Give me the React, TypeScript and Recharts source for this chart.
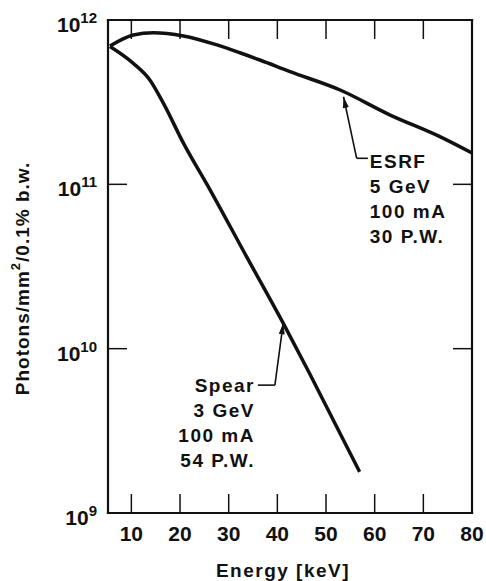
import { LineChart, Line, XAxis, YAxis, ReferenceLine, ReferenceDot } from 'recharts'

const FONT = '"Liberation Sans", Arial, sans-serif'
const INK = '#111'

// values (keV, photons/mm2/0.1% b.w.)
const energyEsrf = [5.6, 10.4, 14.5, 20.7, 27.6, 32.3, 36.4, 42.6, 52.9, 63.2, 73.4, 80]
const fluxEsrf = [6.95e11, 8.11e11, 8.37e11, 8.0e11, 7.05e11, 6.32e11, 5.71e11, 4.85e11, 3.75e11, 2.64e11, 1.95e11, 1.55e11]
const energySpear = [5.6, 10.4, 13.8, 16.6, 20.7, 26.2, 33.7, 41.2, 46.6, 56.9]
const fluxSpear = [6.9e11, 5.45e11, 4.32e11, 3.11e11, 1.78e11, 9.23e10, 3.62e10, 1.43e10, 7.08e9, 1.78e9]

const energyDomain = [5.2, 80]
const fluxDomain = [1e9, 1e12]
const energyTicks = [10, 20, 30, 40, 50, 60, 70, 80]
const fluxTicks = [1e9, 1e10, 1e11, 1e12]
const innerEnergyTicks = [10, 20, 30, 40, 50, 60, 70]
const innerFluxTicks = [1e10, 1e11]

const esrfNote = ['ESRF', '5 GeV', '100 mA', '30 P.W.']
const spearNote = ['Spear', '3 GeV', '100 mA', '54 P.W.']

// one table over all energies, each series filled where it was read
const allEnergies = Array.from(new Set([...energyEsrf, ...energySpear])).sort((a, b) => a - b)
const table = allEnergies.map((energy) => {
  const i = energyEsrf.indexOf(energy)
  const j = energySpear.indexOf(energy)
  return {
    energy,
    esrf: i >= 0 ? fluxEsrf[i] : null,
    spear: j >= 0 ? fluxSpear[j] : null,
  }
})

const [e0, e1] = energyDomain
const [f0, f1] = fluxDomain
const frameSides = [
  [{ x: e0, y: f0 }, { x: e0, y: f1 }],
  [{ x: e1, y: f0 }, { x: e1, y: f1 }],
  [{ x: e0, y: f0 }, { x: e1, y: f0 }],
  [{ x: e0, y: f1 }, { x: e1, y: f1 }],
]

const TICK_LEN = 19

function BottomTick({ x, y, payload }: any) {
  return (
    <text x={x} y={y + 28} textAnchor="middle" fontSize={21} fontWeight="bold" fontFamily={FONT} fill={INK}>
      {payload.value}
    </text>
  )
}

function LeftTick({ x, y, payload }: any) {
  const exp = Math.round(Math.log10(payload.value))
  return (
    <text x={x - 11} y={y + 12} textAnchor="end" fontSize={21} fontWeight="bold" fontFamily={FONT} fill={INK}>
      10
      <tspan dy={-9} fontSize={15}>{exp}</tspan>
    </text>
  )
}

// inward tick marks at both ends of a full-height / full-width segment
function VTicks({ x1, y1, x2, y2 }: any) {
  const top = Math.min(y1, y2)
  const bottom = Math.max(y1, y2)
  return (
    <g>
      <line x1={x1} y1={bottom} x2={x2} y2={bottom - TICK_LEN} stroke={INK} strokeWidth={1.5} />
      <line x1={x1} y1={top} x2={x2} y2={top + TICK_LEN} stroke={INK} strokeWidth={1.5} />
    </g>
  )
}

function HTicks({ x1, y1, x2, y2 }: any) {
  const left = Math.min(x1, x2)
  const right = Math.max(x1, x2)
  return (
    <g>
      <line x1={left} y1={y1} x2={left + TICK_LEN} y2={y2} stroke={INK} strokeWidth={1.5} />
      <line x1={right} y1={y1} x2={right - TICK_LEN} y2={y2} stroke={INK} strokeWidth={1.5} />
    </g>
  )
}

function Frame({ x1, y1, x2, y2 }: any) {
  return <line x1={x1} y1={y1} x2={x2} y2={y2} stroke={INK} strokeWidth={2.2} strokeLinecap="square" />
}

function YTitle({ viewBox }: any) {
  const cx = viewBox.x + 14
  const cy = viewBox.y + viewBox.height / 2 + 12
  return (
    <text
      x={cx}
      y={cy}
      transform={`rotate(-90 ${cx} ${cy})`}
      textAnchor="middle"
      dominantBaseline="central"
      fontSize={19}
      fontWeight="bold"
      letterSpacing={1}
      fontFamily={FONT}
      fill={INK}
    >
      Photons/mm
      <tspan dy={-7} fontSize={13}>2</tspan>
      <tspan dy={7}>/0.1% b.w.</tspan>
    </text>
  )
}

function XTitle({ viewBox }: any) {
  return (
    <text
      x={viewBox.x + viewBox.width / 2 - 7}
      y={viewBox.y + 64}
      textAnchor="middle"
      fontSize={19}
      fontWeight="bold"
      letterSpacing={1.5}
      fontFamily={FONT}
      fill={INK}
    >
      Energy [keV]
    </text>
  )
}

function Arrow({ x1, y1, x2, y2 }: any) {
  const dx = x2 - x1
  const dy = y2 - y1
  const len = Math.hypot(dx, dy) || 1
  const ux = dx / len
  const uy = dy / len
  const bx = x1 + ux * 11
  const by = y1 + uy * 11
  const px = -uy * 3
  const py = ux * 3
  return (
    <g>
      <line x1={x1} y1={y1} x2={x2} y2={y2} stroke={INK} strokeWidth={1.6} />
      <polygon points={`${x1},${y1} ${bx + px},${by + py} ${bx - px},${by - py}`} fill={INK} />
    </g>
  )
}

function Plain({ x1, y1, x2, y2 }: any) {
  return <line x1={x1} y1={y1} x2={x2} y2={y2} stroke={INK} strokeWidth={1.6} />
}

function noteShape(lines: string[], anchor: 'start' | 'end') {
  return ({ cx, cy }: any) => (
    <text
      x={cx}
      y={cy}
      textAnchor={anchor}
      fontSize={19}
      fontWeight="bold"
      letterSpacing={1.5}
      fontFamily={FONT}
      fill={INK}
    >
      {lines.map((t, i) => (
        <tspan key={t} x={cx} dy={i === 0 ? 7 : 25}>
          {t}
        </tspan>
      ))}
    </text>
  )
}

export default function App() {
  return (
    <div style={{ position: 'absolute', left: 0, top: 0, background: '#fff' }}>
      <LineChart width={486} height={581} data={table} margin={{ top: 20, right: 14, bottom: 8, left: 8 }}>
        <XAxis
          type="number"
          dataKey="energy"
          domain={energyDomain}
          ticks={energyTicks}
          interval={0}
          height={60}
          tickSize={0}
          tickMargin={0}
          tickLine={false}
          tick={<BottomTick />}
          axisLine={false}
          label={<XTitle />}
        />
        <YAxis
          scale="log"
          domain={fluxDomain}
          ticks={fluxTicks}
          interval={0}
          width={100}
          tickSize={0}
          tickMargin={0}
          tickLine={false}
          tick={<LeftTick />}
          axisLine={false}
          label={<YTitle />}
        />

        {/* frame and inward ticks, drawn as segments */}
        {frameSides.map((seg, k) => (
          <ReferenceLine key={`side${k}`} segment={seg} ifOverflow="visible" shape={<Frame />} />
        ))}
        {innerEnergyTicks.map((v) => (
          <ReferenceLine
            key={`e${v}`}
            segment={[{ x: v, y: f0 }, { x: v, y: f1 }]}
            ifOverflow="visible"
            shape={<VTicks />}
          />
        ))}
        {innerFluxTicks.map((v) => (
          <ReferenceLine
            key={`f${v}`}
            segment={[{ x: e0, y: v }, { x: e1, y: v }]}
            ifOverflow="visible"
            shape={<HTicks />}
          />
        ))}

        <Line
          dataKey="esrf"
          type="monotone"
          stroke={INK}
          strokeWidth={3.5}
          dot={false}
          connectNulls
          isAnimationActive={false}
        />
        <Line
          dataKey="spear"
          type="monotone"
          stroke={INK}
          strokeWidth={3.5}
          dot={false}
          connectNulls
          isAnimationActive={false}
        />

        {/* ESRF leader */}
        <ReferenceLine segment={[{ x: 53.6, y: 3.41e11 }, { x: 56.3, y: 1.44e11 }]} shape={<Arrow />} />
        <ReferenceLine segment={[{ x: 56.3, y: 1.44e11 }, { x: 58.6, y: 1.44e11 }]} shape={<Plain />} />
        <ReferenceDot x={59} y={1.39e11} shape={noteShape(esrfNote, 'start')} />
        {/* Spear leader */}
        <ReferenceLine segment={[{ x: 41.2, y: 1.43e10 }, { x: 39.5, y: 6.0e9 }]} shape={<Arrow />} />
        <ReferenceLine segment={[{ x: 39.5, y: 6.0e9 }, { x: 36.0, y: 6.0e9 }]} shape={<Plain />} />
        <ReferenceDot x={35.4} y={6.0e9} shape={noteShape(spearNote, 'end')} />
      </LineChart>
    </div>
  )
}
